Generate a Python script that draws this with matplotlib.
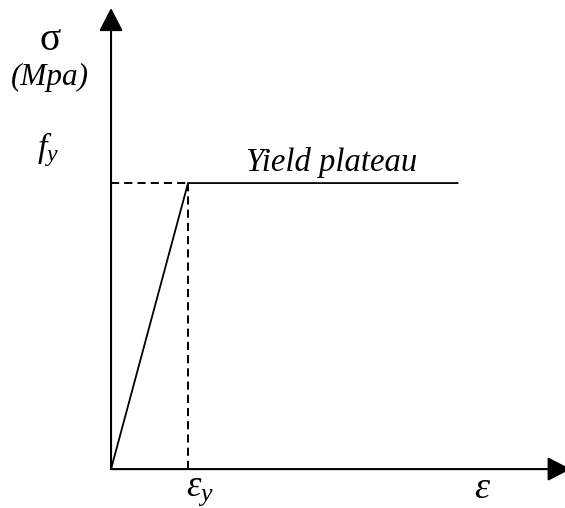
import matplotlib
matplotlib.use("Agg")
import matplotlib.pyplot as plt

plt.rcParams['font.family'] = ['Liberation Serif', 'DejaVu Serif']
plt.rcParams['mathtext.fontset'] = 'custom'
plt.rcParams['mathtext.rm'] = 'Liberation Serif'
plt.rcParams['mathtext.it'] = 'Liberation Serif:italic'

# idealised elastic-perfectly-plastic steel curve (normalised units)
strain = [0.0, 1.0, 4.5]      # origin, eps_y, end of plateau
stress = [0.0, 1.0, 1.0]      # origin, f_y, plateau
eps_y = 1.0
f_y = 1.0
x_axis_end = 5.97
y_axis_end = 1.612

W, H = 565, 508
fig = plt.figure(figsize=(W / 100, H / 100), dpi=100)
ax = fig.add_axes([0, 0, 1, 1])
ax.set_xlim(-1.442, 5.896)
ax.set_ylim(-0.136, 1.640)
ax.axis('off')

arrow = dict(arrowstyle='-|>,head_length=0.62,head_width=0.32', mutation_scale=23,
             lw=1.5, color='k', shrinkA=0, shrinkB=0)
ax.annotate('', xy=(x_axis_end, 0), xytext=(0, 0), arrowprops=arrow,
            annotation_clip=False)
ax.annotate('', xy=(0, y_axis_end), xytext=(0, 0), arrowprops=arrow)

ax.plot(strain, stress, color='k', lw=1.3, solid_joinstyle='miter')
dash = (0, (4.2, 2.6))
ax.plot([0, eps_y], [f_y, f_y], color='k', lw=1.4, ls=dash)
ax.plot([eps_y, eps_y], [0, f_y], color='k', lw=1.4, ls=dash)

fs = 23.5
fig.text(50 / W, 1 - 40 / H, r'$\mathrm{\sigma}$', fontsize=fs + 5, ha='center', va='center')
fig.text(50 / W, 1 - 77 / H, '(Mpa)', fontsize=fs - 1, style='italic', ha='center', va='center')
fig.text(48 / W, 1 - 150 / H, r'$f_y$', fontsize=fs + 1, ha='center', va='center')
fig.text(332 / W, 1 - 162 / H, 'Yield plateau', fontsize=fs, style='italic', ha='center', va='center')
fig.text(200 / W, 1 - 491 / H, r'$\mathit{\varepsilon}_y$', fontsize=fs + 3, ha='center', va='center')
fig.text(483 / W, 1 - 489 / H, r'$\mathit{\varepsilon}$', fontsize=fs + 4, ha='center', va='center')

fig.savefig('out.png', dpi=100)
